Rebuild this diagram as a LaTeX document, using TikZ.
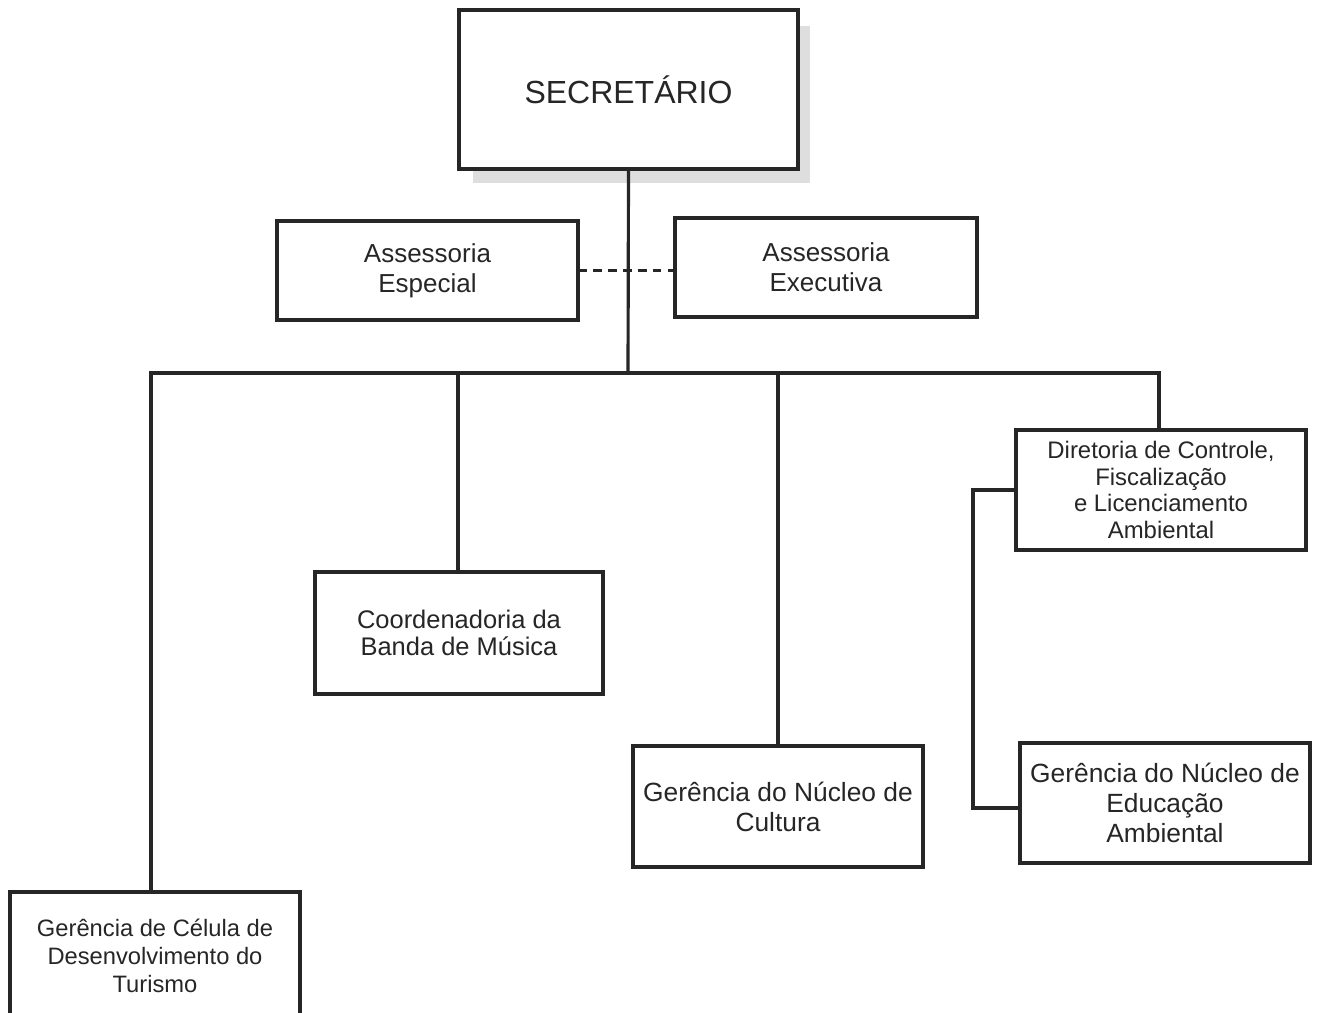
\documentclass[tikz,border=0pt]{standalone}
\usepackage{fontspec}
\setmainfont{Liberation Sans}
\usetikzlibrary{shadows}
\definecolor{ink}{HTML}{262626}
\tikzset{
  box/.style={draw=ink, line width=1.8pt, fill=white, inner sep=0pt, outer sep=0pt,
    minimum width=5.8cm, align=center, text=ink},
  conn/.style={draw=ink, line width=1.8pt},
}
\begin{document}
\begin{tikzpicture}[x=0.02cm,y=-0.02cm]
\clip (0,0) rectangle (1321,1012);
\fill[white] (0,0) rectangle (1321,1012);
% shadow of Secretario box
\fill[black!13] (473,26) rectangle (810,183);
\node[box, minimum width=6.78cm, minimum height=3.18cm, font=\fontsize{18.2}{21}\selectfont] (sec) at (628.5,89.5) {SECRETÁRIO};
\node[box, minimum width=6.02cm, minimum height=1.98cm, font=\fontsize{14.8}{17}\selectfont] (ae) at (427.5,270.5) {Assessoria\\Especial};
\node[box, minimum width=6.04cm, minimum height=1.98cm, font=\fontsize{14.8}{17}\selectfont] (aex) at (826,267.5) {Assessoria\\Executiva};
\node[box, minimum height=2.56cm, font=\fontsize{13.5}{15.9}\selectfont] (tur) at (155,956) {Gerência de Célula de\\Desenvolvimento do\\Turismo};
\node[box, minimum width=5.76cm, minimum height=2.44cm, font=\fontsize{14.5}{15.3}\selectfont] (coord) at (459,633) {Coordenadoria da\\Banda de Música};
\node[box, minimum height=2.42cm, font=\fontsize{15}{17}\selectfont] (cult) at (778,806.5) {Gerência do Núcleo de\\Cultura};
\node[box, minimum height=2.4cm, font=\fontsize{13.6}{15.3}\selectfont] (dir) at (1161,490) {Diretoria de Controle,\\Fiscalização\\e Licenciamento\\Ambiental};
\node[box, minimum height=2.4cm, font=\fontsize{15}{17}\selectfont] (edu) at (1165,803) {Gerência do Núcleo de\\Educação\\Ambiental};
% bus
\coordinate (busc) at (628,373);
\coordinate (busl) at (151,373);
\coordinate (busr) at (1159,373);
\coordinate (b2) at (458,373);
\coordinate (b3) at (778,373);
\coordinate (side) at (973,0);
\draw[conn] (sec.south) -- (busc);
\draw[conn, line cap=rect] (busl) -- (busr);
\draw[conn] (busl) -- (busl |- tur.north);
\draw[conn] (b2) -- (b2 |- coord.north);
\draw[conn] (b3) -- (b3 |- cult.north);
\draw[conn] (busr) -- (busr |- dir.north);
\draw[conn, dash pattern=on 5pt off 3.5pt] (ae.east) -- (aex.west |- ae.east);
\draw[conn] (dir.west) -- (side |- dir.west) -- (side |- 0,808) -- (edu.west |- 0,808);
\end{tikzpicture}
\end{document}
